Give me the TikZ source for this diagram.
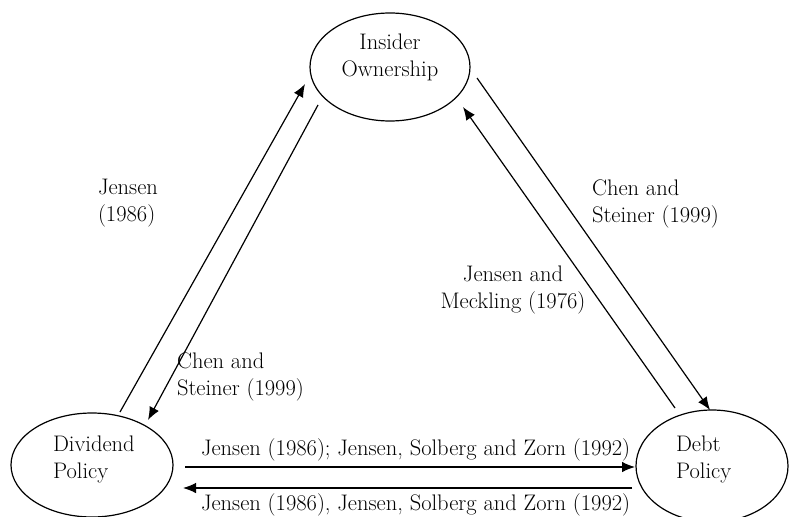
\documentclass[tikz,border=0pt]{standalone}
\usepackage{fontspec}
\usetikzlibrary{arrows.meta,shapes.geometric,calc}
\begin{document}
\begin{tikzpicture}[x=1pt,y=-1pt,
  oval/.style={draw, ellipse, line width=1.2pt, inner sep=0pt, outer sep=0pt},
  arr/.style={line width=1.2pt, -{Latex[length=13pt,width=10.5pt]}},
  lbl/.style={font=\fontsize{22.5}{27}\selectfont, inner sep=0pt, outer sep=0pt, align=left},
  lblc/.style={lbl, align=center}]
\path[use as bounding box] (0,0) rectangle (791,516);
% ellipses
\node[oval, minimum width=160pt, minimum height=108pt] (ins) at (390,67) {};
\node[oval, minimum width=162pt, minimum height=104pt] (div) at (92,465) {};
\node[oval, minimum width=152pt, minimum height=112pt] (debt) at (712,466) {};
% ellipse texts (base anchor = baseline of last line)
\node[lblc, anchor=base] (insT) at (390,77) {Insider\\Ownership};
\node[lbl, anchor=base west] (divT) at (53,478) {Dividend\\Policy};
\node[lbl, anchor=base west] (debtT) at (676,478) {Debt\\Policy};
% connectors
\draw[arr] ($(div)+(28,-53)$) -- ($(ins)+(-85,17)$);
\draw[arr] ($(ins)+(-72,38)$) -- ($(div)+(56,-45)$);
\draw[arr] ($(ins)+(87,11)$) -- ($(debt)+(-2,-56)$);
\draw[arr] ($(debt)+(-37,-58)$) -- ($(ins)+(73,40)$);
\draw[arr] ($(div)+(93,2)$) -- ($(debt)+(-77,1)$);
\draw[arr] ($(debt)+(-80,22)$) -- ($(div)+(91,23)$);
% labels
\node[lbl, anchor=base west] (l1) at (98,221) {Jensen\\(1986)};
\node[lbl, anchor=base west] (l2) at (177,395) {Chen and\\Steiner (1999)};
\node[lbl, anchor=base west] (l3) at (592,222) {Chen and\\Steiner (1999)};
\node[lblc, anchor=base] (l4) at (513,308) {Jensen and\\Meckling (1976)};
\node[lbl, anchor=base west] (l5) at (201,455) {Jensen (1986); Jensen, Solberg and Zorn (1992)};
\node[lbl, anchor=base west] (l6) at (201,510) {Jensen (1986), Jensen, Solberg and Zorn (1992)};
\end{tikzpicture}
\end{document}
